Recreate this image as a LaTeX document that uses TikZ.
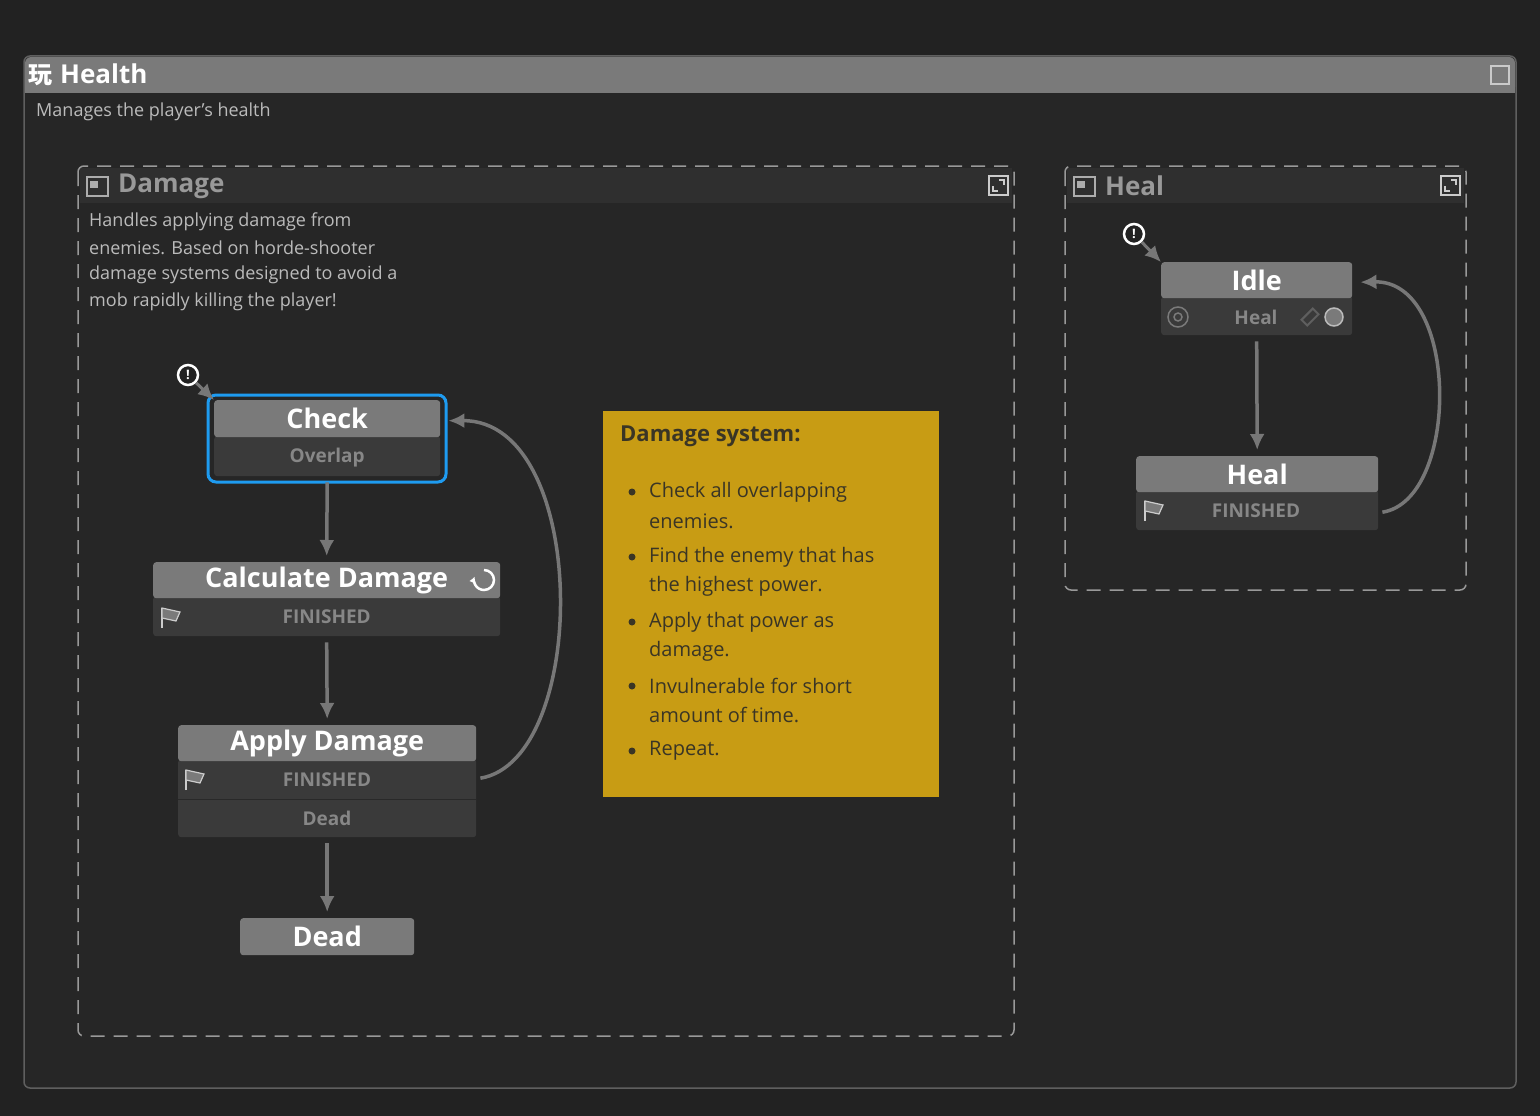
\documentclass[tikz,border=0pt]{standalone}
\usepackage{fontspec}
\setmainfont{Open Sans}
\newfontfamily\cjk{Noto Sans CJK SC}
\usetikzlibrary{arrows.meta,positioning,calc}
\tikzset{>=latex}
\definecolor{bgdark}{HTML}{222222}
\definecolor{panel}{HTML}{262626}
\definecolor{hdrgray}{HTML}{7A7A7A}
\definecolor{bodygray}{HTML}{3A3A3A}
\definecolor{linegray}{HTML}{777777}
\definecolor{txtgray}{HTML}{BBBBBB}
\definecolor{dimtxt}{HTML}{999999}
\definecolor{selblue}{HTML}{1E9BF0}
\definecolor{sticky}{HTML}{C89C14}
\definecolor{stickytxt}{HTML}{3A3525}
\newcommand{\stfont}{\fontsize{27}{30}\selectfont\bfseries}
\newcommand{\subfont}{\fontsize{19}{22}\selectfont\bfseries}
\newcommand{\descfont}{\fontsize{18}{22}\selectfont}
\tikzset{
  hdr/.style={fill=hdrgray, text=white, font=\stfont, inner sep=0pt, anchor=north west, rounded corners=3pt},
  row/.style={fill=bodygray, text=hdrgray!90!white, font=\subfont, inner sep=0pt, anchor=north west, rounded corners=3pt},
  desc/.style={text=txtgray, font=\descfont, anchor=west, inner sep=0pt},
  trans/.style={draw=linegray, line width=3.5pt, -{Latex[length=16pt,width=15pt]}},
  group/.style={draw=dimtxt, line width=1.5pt, dash pattern=on 14pt off 9pt, rounded corners=6pt},
  entry/.style={circle, draw=white, fill=bgdark, line width=2.5pt, minimum size=20pt, inner sep=0pt, text=white, font=\fontsize{13}{13}\selectfont\bfseries},
  bullet/.style={circle, fill=stickytxt, inner sep=0pt, minimum size=7pt},
  note/.style={text=stickytxt, font=\fontsize{20}{24}\selectfont, anchor=west, inner sep=0pt}
}
\begin{document}
\begin{tikzpicture}[x=1pt,y=-1pt]
  \useasboundingbox (0,0) rectangle (1540,1116);
  \fill[bgdark] (0,0) rectangle (1540,1116);
  % outer graph
  \draw[fill=panel, draw=hdrgray!120, line width=1.5pt, rounded corners=6pt] (24,56) rectangle (1516,1088);
  \fill[hdrgray, rounded corners=6pt] (25,57) rectangle (1515,93);
  \fill[hdrgray] (25,80) rectangle (1515,93);
  \node[anchor=west, text=white, inner sep=0pt] (gtitle) at (28,75) {{\cjk\fontsize{24}{26}\selectfont\bfseries 玩}\hspace{8pt}\fontsize{26}{30}\selectfont\bfseries Health};
  \draw[white!60!hdrgray, line width=1.2pt] (1491,66) rectangle (1509,84);
  \node[desc] (gdesc) at (36,112) {Manages the player's health};

  % Damage group
  \fill[white!4!panel] (80,168) rectangle (1012,203);
  \draw[group] (78,166) rectangle (1014,1036);
  \draw[dimtxt!80!white, line width=1.5pt] (87,177) rectangle (108,196);
  \fill[dimtxt!80!white] (90,181) rectangle (98,188);
  \node[anchor=west, text=dimtxt, font=\fontsize{26}{30}\selectfont\bfseries, inner sep=0pt] (dtitle) at (118,186) {Damage};
  \draw[white!80!black, line width=1.5pt] (989,176) rectangle (1008,195);
  \draw[white!80!black, line width=1.5pt] (993,186) -- (993,191) -- (998,191) (999,180) -- (1004,180) -- (1004,185);
  \node[desc] at (89,222) {Handles applying damage from};
  \node[desc] at (89,248) {enemies. Based on horde-shooter};
  \node[desc] at (89,275) {damage systems designed to avoid a};
  \node[desc] at (89,302) {mob rapidly killing the player!};

  % Heal group
  \fill[white!4!panel] (1067,168) rectangle (1464,203);
  \draw[group] (1065,166) rectangle (1466,590);
  \draw[dimtxt!80!white, line width=1.5pt] (1074,177) rectangle (1095,196);
  \fill[dimtxt!80!white] (1077,181) rectangle (1085,188);
  \node[anchor=west, text=dimtxt, font=\fontsize{26}{30}\selectfont\bfseries, inner sep=0pt] (htitle) at (1105,186) {Heal};
  \draw[white!80!black, line width=1.5pt] (1441,176) rectangle (1460,195);
  \draw[white!80!black, line width=1.5pt] (1445,186) -- (1445,191) -- (1450,191) (1451,180) -- (1456,180) -- (1456,185);

  % states
  \draw[selblue, line width=3pt, rounded corners=8pt] (208,395) rectangle (446,482);
  \node[row, minimum width=226pt, minimum height=40pt] (checkb) at (214,436) {};
  \node[text=hdrgray!90!white, font=\subfont] at ($(checkb.center)+(0,1)$) {Overlap};
  \node[hdr, minimum width=226pt, minimum height=37pt] (check) at (214,400) {Check};

  \node[row, minimum width=347pt, minimum height=40pt] (calcb) at (153,596) {};
  \node[text=hdrgray!90!white, font=\subfont] at ($(calcb.center)+(0,1)$) {FINISHED};
  \node[hdr, minimum width=347pt, minimum height=36pt] (calc) at (153,562) {Calculate Damage};
  \draw[white, line width=2.5pt, -{Latex[length=6pt,width=7pt]}] (484,570) arc[start angle=-90, end angle=200, radius=10];

  \node[row, minimum width=298pt, minimum height=78pt] (applyb) at (178,759) {};
  \draw[bgdark!70!bodygray, line width=1pt] (178,799) -- (476,799);
  \node[text=hdrgray!90!white, font=\subfont] at (327,780) {FINISHED};
  \node[text=hdrgray!90!white, font=\subfont] at (327,818) {Dead};
  \node[hdr, minimum width=298pt, minimum height=36pt] (apply) at (178,725) {Apply Damage};

  \node[hdr, minimum width=174pt, minimum height=37pt] (dead) at (240,918) {Dead};

  \node[row, minimum width=191pt, minimum height=39pt] (idleb) at (1161,296) {};
  \node[text=hdrgray!90!white, font=\subfont] at (1256,317) {Heal};
  \draw[hdrgray, line width=1.5pt] (1178,317) circle (10pt) (1178,317) circle (4pt);
  \draw[hdrgray!120, line width=2pt, rotate around={45:(1310,317)}] (1302,313) rectangle (1318,321);
  \draw[txtgray, line width=1.5pt, fill=hdrgray] (1334,317) circle (9pt);
  \node[hdr, minimum width=191pt, minimum height=36pt] (idle) at (1161,262) {Idle};

  \node[row, minimum width=242pt, minimum height=40pt] (healb) at (1136,490) {};
  \node[text=hdrgray!90!white, font=\subfont] at (1256,511) {FINISHED};
  \node[hdr, minimum width=242pt, minimum height=36pt] (heal) at (1136,456) {Heal};

  % flags
  \foreach \fx/\fy in {162/608, 186/770, 1145/501}{
    \draw[white!80!black, line width=1.5pt] (\fx,\fy+20) -- (\fx,\fy);
    \draw[white!80!black, line width=1.2pt, fill=hdrgray] (\fx,\fy) -- (\fx+18,\fy+4) -- (\fx+14,\fy+13) -- (\fx,\fy+10) -- cycle;
  }

  % sticky note
  \fill[sticky] (603,411) rectangle (939,797);
  \node[note, font=\fontsize{22}{26}\selectfont\bfseries] (ntitle) at (620,436) {Damage system:};
  \foreach \ly/\la/\lb in {492/Check all overlapping/enemies., 557/Find the enemy that has/the highest power., 622/Apply that power as/damage., 686/Invulnerable for short/amount of time.}{
    \node[bullet] at (632,\ly) {};
    \node[note] at (649,\ly) {\la};
    \node[note] at (649,\ly+29) {\lb};
  }
  \node[bullet] at (632,751) {};
  \node[note] at (649,751) {Repeat.};

  % entries
  \node[entry] (e1) at (188,375) {!};
  \node[entry] (e2) at (1134,234) {!};
  \draw[trans, line width=3pt] (e1) -- (check.north west);
  \draw[trans, line width=3pt] (e2) -- (idle.north west);

  % transitions
  \draw[trans] ($(checkb.south)+(0,6)$) -- ($(calc.north)+(0,-6)$);
  \draw[trans] ($(calcb.south)+(0,6)$) -- ($(apply.north)+(0,-6)$);
  \draw[trans] ($(applyb.south)+(0,6)$) -- ($(dead.north)+(0,-6)$);
  \draw[trans] ($(applyb.east)+(4,-20)$) .. controls (590,760) and (590,420) .. ($(check.east)+(8,2)$);
  \draw[trans] ($(idleb.south)+(0,6)$) -- ($(heal.north)+(0,-6)$);
  \draw[trans] ($(healb.east)+(4,2)$) .. controls (1460,500) and (1460,280) .. ($(idle.east)+(8,2)$);
\end{tikzpicture}
\end{document}
